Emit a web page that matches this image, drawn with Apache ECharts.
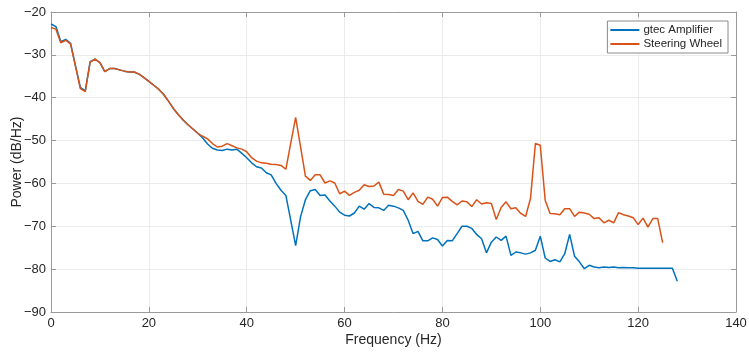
<!DOCTYPE html>
<html>
<head>
<meta charset="utf-8">
<script src="https://cdn.jsdelivr.net/npm/echarts@6/dist/echarts.min.js"></script>
<style>
  html, body { margin: 0; padding: 0; background: #fff; }
  #chart { width: 749px; height: 355px; }
</style>
</head>
<body>
<div id="chart"></div>
<script>
// power spectra, 1 Hz bins
const gtecAmplifier = [
  -22.8, -23.4, -26.9, -26.4, -27.3, -32.5, -37.6, -38.4, -31.6, -31.0,
  -31.8, -33.9, -33.2, -33.2, -33.5, -33.8, -34.0, -34.0, -34.5, -35.3,
  -36.2, -37.1, -38.0, -39.2, -40.8, -42.5, -43.9, -45.2, -46.3, -47.3,
  -48.3, -49.4, -50.8, -51.8, -52.2, -52.3, -52.0, -52.2, -52.0, -53.0,
  -54.0, -55.2, -56.1, -56.4, -57.5, -58.0, -60.0, -61.6, -62.8, -68.6,
  -74.5, -67.8, -63.8, -61.7, -61.4, -62.8, -62.7, -64.1, -65.3, -66.7,
  -67.4, -67.6, -66.9, -65.3, -66.0, -64.7, -65.6, -65.7, -66.3, -65.1,
  -65.3, -65.7, -66.3, -68.6, -71.7, -71.2, -73.4, -73.4, -72.7, -73.1,
  -74.6, -73.3, -73.4, -71.7, -70.0, -70.0, -70.5, -71.9, -72.9, -76.2,
  -73.7, -72.5, -73.3, -72.3, -76.8, -76.0, -76.2, -76.5, -76.2, -75.6,
  -72.3, -77.4, -78.2, -77.8, -78.3, -76.4, -71.9, -77.0, -78.3, -79.9,
  -79.1, -79.5, -79.7, -79.5, -79.6, -79.5, -79.7, -79.6, -79.7, -79.7,
  -79.8, -79.8, -79.8, -79.8, -79.8, -79.8, -79.8, -79.8, -82.8
]
const steeringWheel = [
  -23.6, -24.0, -27.2, -26.6, -27.5, -32.7, -37.9, -38.6, -31.7, -31.0,
  -31.8, -33.9, -33.2, -33.2, -33.5, -33.8, -34.0, -34.0, -34.5, -35.3,
  -36.2, -37.1, -38.0, -39.2, -40.8, -42.5, -43.9, -45.2, -46.3, -47.3,
  -48.3, -49.0, -49.6, -50.7, -51.5, -51.3, -50.7, -51.2, -51.7, -52.0,
  -52.6, -54.0, -54.8, -55.2, -55.3, -55.5, -55.6, -55.8, -56.7, -50.6,
  -44.6, -51.4, -58.3, -59.3, -58.0, -58.0, -59.9, -59.4, -59.9, -62.4,
  -61.8, -62.8, -62.1, -61.6, -60.3, -60.7, -60.6, -59.7, -62.5, -62.6,
  -62.8, -61.4, -61.8, -63.8, -62.2, -64.2, -64.9, -63.2, -63.7, -65.3,
  -63.3, -63.2, -64.2, -65.0, -64.1, -64.3, -65.4, -63.8, -64.8, -64.5,
  -64.7, -68.4, -65.6, -64.3, -65.9, -65.7, -67.0, -67.7, -63.5, -50.7,
  -51.1, -63.9, -67.0, -67.1, -67.3, -65.9, -65.9, -67.7, -66.7, -66.9,
  -67.2, -68.2, -68.0, -69.2, -68.6, -69.2, -66.8, -67.3, -67.6, -68.0,
  -69.6, -68.1, -70.2, -68.2, -68.2, -73.8
]
const seriesNames = ['gtec Amplifier', 'Steering Wheel']
const seriesColors = ['#0072BD', '#D95319']

const toPairs = arr => arr.map((v, i) => [i, v])
const minus = v => String(v).replace('-', '\u2212')

const axisColor = '#9a9a9a'
const textColor = '#262626'
const fontFamily = '"Liberation Sans", Arial, sans-serif'

const baseX = {
  type: 'value',
  min: 0,
  max: 140,
  interval: 20,
  axisLine: { show: true, onZero: false, lineStyle: { color: axisColor, width: 1 } },
  axisTick: { show: true, inside: true, length: 5, lineStyle: { color: axisColor } }
}
const baseY = {
  type: 'value',
  min: -90,
  max: -20,
  interval: 10,
  axisLine: { show: true, onZero: false, lineStyle: { color: axisColor, width: 1 } },
  axisTick: { show: true, inside: true, length: 5, lineStyle: { color: axisColor } }
}

const chart = echarts.init(document.getElementById('chart'))
chart.setOption({
  animation: false,
  textStyle: { fontFamily: fontFamily },
  grid: { left: 51, right: 13, top: 12, bottom: 43, containLabel: false, outerBoundsMode: 'none' },
  legend: {
    data: seriesNames,
    orient: 'vertical',
    right: 21,
    top: 21,
    itemWidth: 29,
    itemHeight: 2,
    itemGap: 2,
    icon: 'rect',
    padding: [3, 6, 3, 3],
    backgroundColor: '#fff',
    borderColor: '#8a8a8a',
    borderWidth: 1,
    borderRadius: 0,
    textStyle: { color: textColor, fontSize: 11.5, fontFamily: fontFamily, padding: [0, 0, 0, -1] }
  },
  xAxis: [
    Object.assign({}, baseX, {
      position: 'bottom',
      name: 'Frequency (Hz)',
      nameLocation: 'middle',
      nameGap: 21,
      nameMoveOverlap: false,
      nameTextStyle: { color: textColor, fontSize: 14 },
      axisLabel: { color: textColor, fontSize: 13, margin: 5, formatter: minus },
      splitLine: { show: true, lineStyle: { color: '#ebebeb', width: 1 } }
    }),
    Object.assign({}, baseX, {
      position: 'top',
      axisLabel: { show: false },
      splitLine: { show: false }
    })
  ],
  yAxis: [
    Object.assign({}, baseY, {
      position: 'left',
      name: 'Power (dB/Hz)',
      nameLocation: 'middle',
      nameGap: 27,
      nameMoveOverlap: false,
      nameTextStyle: { color: textColor, fontSize: 14 },
      axisLabel: { color: textColor, fontSize: 13, margin: 5, formatter: minus },
      splitLine: { show: true, lineStyle: { color: '#ebebeb', width: 1 } }
    }),
    Object.assign({}, baseY, {
      position: 'right',
      axisLabel: { show: false },
      splitLine: { show: false }
    })
  ],
  series: [
    {
      name: seriesNames[0],
      type: 'line',
      data: toPairs(gtecAmplifier),
      showSymbol: false,
      color: seriesColors[0],
      lineStyle: { width: 1.5 },
      z: 2
    },
    {
      name: seriesNames[1],
      type: 'line',
      data: toPairs(steeringWheel),
      showSymbol: false,
      color: seriesColors[1],
      lineStyle: { width: 1.5 },
      z: 3
    }
  ]
})
</script>
</body>
</html>
